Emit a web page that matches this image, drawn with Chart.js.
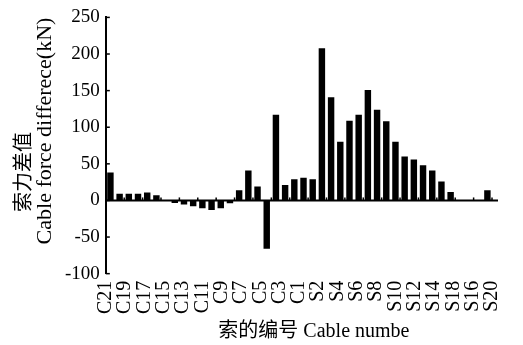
<!DOCTYPE html>
<html>
<head>
<meta charset="utf-8">
<script src="https://cdn.jsdelivr.net/npm/chart.js@4/dist/chart.umd.min.js"></script>
<style>
  html, body { margin: 0; padding: 0; background: #fff; }
  #wrap { width: 523px; height: 345px; }
</style>
</head>
<body>
<div id="wrap"><canvas id="force-target"></canvas></div>
<script>
// one bar per cable, left side C21..C1 then right side S1..S21
const cables = [
    'C21', 'C20', 'C19', 'C18', 'C17', 'C16', 'C15', 'C14', 'C13', 'C12', 'C11',
    'C10', 'C9', 'C8', 'C7', 'C6', 'C5', 'C4', 'C3', 'C2', 'C1',
    'S1', 'S2', 'S3', 'S4', 'S5', 'S6', 'S7', 'S8', 'S9', 'S10', 'S11',
    'S12', 'S13', 'S14', 'S15', 'S16', 'S17', 'S18', 'S19', 'S20', 'S21',
]
// cable force difference (kN)
const forceDiff = [
    38, 9, 9, 9, 11, 7, 0, -3.5, -5.5, -8, -10.5,
    -13, -10.5, -4, 14, 41, 19, -66, 117, 21, 29,
    31, 29, 208, 141, 80, 109, 117, 151, 124, 108, 80,
    60, 56, 48, 41, 26, 11.5, 0, 0, 0, 14,
]
// axis labels as printed under the chart
const tickLabels = [
    'C21', 'C19', 'C17', 'C15', 'C13', 'C11', 'C9', 'C7', 'C5', 'C3', 'C1',
    'S2', 'S4', 'S6', 'S8', 'S10', 'S12', 'S14', 'S18', 'S16', 'S20',
]
const yTicks = [-100, -50, 0, 50, 100, 150, 200, 250]

const serif = '"Liberation Serif", "Noto Sans CJK SC", serif'

// zero line, inner tick marks and the axis titles
const extras = {
    id: 'extras',
    afterDraw(chart) {
        const { ctx, chartArea } = chart
        const x = chart.scales.x
        const y = chart.scales.y
        const zero = y.getPixelForValue(0)
        ctx.save()
        ctx.strokeStyle = '#000'
        ctx.lineWidth = 2
        ctx.beginPath()
        ctx.moveTo(chartArea.left, zero)
        ctx.lineTo(chartArea.right + 6, zero)
        ctx.stroke()

        ctx.lineWidth = 1.5
        y.ticks.forEach((t) => {
            const py = y.getPixelForValue(t.value)
            ctx.beginPath()
            ctx.moveTo(chartArea.left, py)
            ctx.lineTo(chartArea.left + 4, py)
            ctx.stroke()
        })
        const w = x.getPixelForValue(1) - x.getPixelForValue(0)
        for (let i = 2; i <= cables.length; i += 2) {
            const px = x.getPixelForValue(0) + (i - 0.5) * w
            ctx.beginPath()
            ctx.moveTo(px, zero)
            ctx.lineTo(px, zero - 3)
            ctx.stroke()
        }

        ctx.fillStyle = '#000'
        ctx.textAlign = 'center'
        ctx.textBaseline = 'middle'
        ctx.font = '20px ' + serif
        ctx.fillText('索的编号 Cable numbe', (chartArea.left + chartArea.right) / 2 + 15, 332)

        ctx.translate(25, 172)
        ctx.rotate(-Math.PI / 2)
        ctx.fillText('索力差值', 0, 0)
        ctx.restore()

        ctx.save()
        ctx.fillStyle = '#000'
        ctx.textAlign = 'center'
        ctx.textBaseline = 'middle'
        ctx.font = '22px ' + serif
        ctx.translate(45, 131)
        ctx.rotate(-Math.PI / 2)
        ctx.fillText('Cable force differece(kN)', 0, 0)
        ctx.restore()
    },
}

window.onload = () => {
    const target = document.getElementById('force-target')
    new Chart(target, {
        type: 'bar',
        data: {
            labels: cables,
            datasets: [{
                data: forceDiff,
                backgroundColor: '#000',
                barPercentage: 0.7,
                categoryPercentage: 1,
                xAxisID: 'x',
            }],
        },
        options: {
            responsive: true,
            maintainAspectRatio: false,
            animation: false,
            layout: {
                padding: { left: 59, right: -8, top: -8, bottom: 24 },
            },
            plugins: {
                legend: { display: false },
                tooltip: { enabled: false },
            },
            scales: {
                x: {
                    type: 'category',
                    display: false,
                    offset: true,
                },
                x2: {
                    type: 'category',
                    position: 'bottom',
                    labels: tickLabels,
                    offset: false,
                    grid: { display: false, drawTicks: false },
                    border: { display: false },
                    ticks: {
                        autoSkip: false,
                        maxRotation: 90,
                        minRotation: 90,
                        padding: 7,
                        color: '#000',
                        font: { family: serif, size: 20 },
                    },
                },
                y: {
                    min: yTicks[0],
                    max: yTicks[yTicks.length - 1],
                    ticks: {
                        stepSize: 50,
                        padding: 6,
                        color: '#000',
                        font: { family: serif, size: 19 },
                    },
                    grid: { display: false, drawTicks: false },
                    border: { display: true, color: '#000', width: 2 },
                },
            },
        },
        plugins: [extras],
    })
}
</script>
</body>
</html>
